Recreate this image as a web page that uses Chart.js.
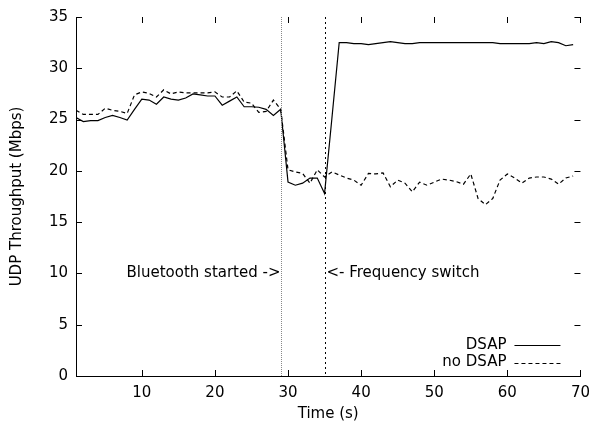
<!DOCTYPE html>
<html>
<head>
<meta charset="utf-8">
<script src="https://cdn.jsdelivr.net/npm/chart.js@4"></script>
<style>
  html, body { margin: 0; padding: 0; background: #fff; }
  #wrap { width: 598px; height: 426px; }
</style>
</head>
<body>
<div id="wrap"><canvas id="udpChart" width="598" height="426"></canvas></div>
<script>
// time in seconds
var times = [1,2,3,4,5,6,7,8,9,10,11,12,13,14,15,16,17,18,19,20,
    21,22,23,24,25,26,27,28,29,30,31,32,33,34,35,36,37,38,39,40,
    41,42,43,44,45,46,47,48,49,50,51,52,53,54,55,56,57,58,59,60,
    61,62,63,64,65,66,67,68,69];

var dsap = [25.2,24.8,24.9,24.9,25.2,25.4,25.2,24.95,26.0,27.0,
    26.9,26.5,27.2,27.0,26.9,27.1,27.5,27.4,27.3,27.3,
    26.4,26.8,27.2,26.25,26.25,26.2,26.0,25.4,26.0,18.9,
    18.6,18.8,19.3,19.3,17.8,25.1,32.5,32.5,32.4,32.4,
    32.3,32.4,32.5,32.6,32.5,32.4,32.4,32.5,32.5,32.5,
    32.5,32.5,32.5,32.5,32.5,32.5,32.5,32.5,32.4,32.4,
    32.4,32.4,32.4,32.5,32.4,32.6,32.5,32.2,32.3];

var noDsap = [25.9,25.5,25.5,25.5,26.1,25.9,25.8,25.6,27.4,27.7,
    27.55,27.2,27.9,27.5,27.7,27.6,27.6,27.6,27.6,27.7,
    27.2,27.2,27.8,26.7,26.6,25.7,25.8,26.9,26.0,20.1,
    19.9,19.75,18.8,20.1,19.4,19.9,19.6,19.3,19.1,18.6,
    19.75,19.7,19.8,18.45,19.1,18.8,17.96,18.9,18.6,18.9,
    19.2,19.1,18.95,18.7,19.7,17.3,16.7,17.3,19.1,19.7,
    19.3,18.8,19.3,19.4,19.4,19.2,18.7,19.3,19.5];

var xTicks = [10,20,30,40,50,60,70];
var yTicks = [0,5,10,15,20,25,30,35];

// event markers
var btStart = 29;
var freqSwitch = 35;
var labelLevel = 10;

var fontFamily = '"DejaVu Sans", sans-serif';
var fontSize = 15;

function toPoints(xs, ys) {
    return xs.map(function(x, i) { return {x: x, y: ys[i]}; });
}

var gnuplotDecor = {
    id: 'gnuplotDecor',
    afterDatasetsDraw: function(chart) {
        var ctx = chart.ctx;
        var xs = chart.scales.x, ys = chart.scales.y;
        var a = chart.chartArea;
        ctx.save();

        // inward ticks on all four sides
        ctx.strokeStyle = '#000';
        ctx.lineWidth = 1;
        ctx.beginPath();
        xTicks.forEach(function(t) {
            var px = Math.round(xs.getPixelForValue(t)) + 0.5;
            ctx.moveTo(px, a.bottom); ctx.lineTo(px, a.bottom - 6);
            ctx.moveTo(px, a.top); ctx.lineTo(px, a.top + 6);
        });
        yTicks.forEach(function(t) {
            var py = Math.round(ys.getPixelForValue(t)) + 0.5;
            ctx.moveTo(a.left, py); ctx.lineTo(a.left + 6, py);
            ctx.moveTo(a.right, py); ctx.lineTo(a.right - 6, py);
        });
        ctx.stroke();

        // vertical event lines
        var pxBt = Math.round(xs.getPixelForValue(btStart)) + 0.5;
        ctx.strokeStyle = '#888';
        ctx.setLineDash([1, 1]);
        ctx.beginPath();
        ctx.moveTo(pxBt, a.top); ctx.lineTo(pxBt, a.bottom);
        ctx.stroke();

        var pxFs = Math.round(xs.getPixelForValue(freqSwitch)) + 0.5;
        ctx.strokeStyle = '#000';
        ctx.setLineDash([2, 3]);
        ctx.beginPath();
        ctx.moveTo(pxFs, a.top); ctx.lineTo(pxFs, a.bottom);
        ctx.stroke();
        ctx.setLineDash([]);

        // annotations
        var ly = ys.getPixelForValue(labelLevel);
        ctx.fillStyle = '#000';
        ctx.font = fontSize + 'px ' + fontFamily;
        ctx.textBaseline = 'middle';
        ctx.textAlign = 'right';
        ctx.fillText('Bluetooth started ->', pxBt - 1, ly);
        ctx.textAlign = 'left';
        ctx.fillText('<- Frequency switch', pxFs + 1, ly);

        // legend, bottom right inside the plot
        var dsets = chart.data.datasets;
        dsets.forEach(function(ds, i) {
            var y = a.bottom - 31 + i * 17.5;
            ctx.textAlign = 'right';
            ctx.fillStyle = '#000';
            ctx.fillText(ds.label, a.right - 74, y);
            ctx.strokeStyle = '#000';
            ctx.lineWidth = 1;
            ctx.setLineDash(ds.borderDash || []);
            ctx.beginPath();
            ctx.moveTo(a.right - 66, Math.round(y) + 0.5);
            ctx.lineTo(a.right - 20, Math.round(y) + 0.5);
            ctx.stroke();
        });
        ctx.setLineDash([]);
        ctx.restore();
    }
};

var ctx = document.getElementById('udpChart').getContext('2d');
var udpChart = new Chart(ctx, {
    type: 'line',
    data: {
        datasets: [{
            label: 'DSAP',
            data: toPoints(times, dsap),
            borderColor: '#000',
            borderWidth: 1.2,
            pointRadius: 0,
            tension: 0
        }, {
            label: 'no DSAP',
            data: toPoints(times, noDsap),
            borderColor: '#000',
            borderWidth: 1.2,
            borderDash: [4, 3],
            pointRadius: 0,
            tension: 0
        }]
    },
    options: {
        responsive: false,
        animation: false,
        layout: { padding: { top: 17, right: 14, left: 0, bottom: 0 } },
        plugins: {
            legend: { display: false },
            tooltip: { enabled: false }
        },
        scales: {
            x: {
                type: 'linear',
                min: 1,
                max: 70,
                afterBuildTicks: function(scale) {
                    scale.ticks = xTicks.map(function(v) { return {value: v}; });
                },
                afterFit: function(scale) { scale.height = 50; },
                grid: { display: false, drawTicks: false },
                border: { display: true, color: '#000', width: 1 },
                ticks: {
                    color: '#000',
                    padding: 8,
                    maxRotation: 0,
                    font: { family: fontFamily, size: fontSize }
                },
                title: {
                    display: true,
                    text: 'Time (s)',
                    color: '#000',
                    padding: { top: 0, bottom: 3 },
                    font: { family: fontFamily, size: fontSize }
                }
            },
            y: {
                min: 0,
                max: 35,
                afterBuildTicks: function(scale) {
                    scale.ticks = yTicks.map(function(v) { return {value: v}; });
                },
                afterFit: function(scale) { scale.width = 76; },
                grid: { display: false, drawTicks: false },
                border: { display: true, color: '#000', width: 1 },
                ticks: {
                    color: '#000',
                    padding: 8,
                    font: { family: fontFamily, size: fontSize }
                },
                title: {
                    display: true,
                    text: 'UDP Throughput (Mbps)',
                    color: '#000',
                    padding: { top: 8, bottom: 0 },
                    font: { family: fontFamily, size: fontSize }
                }
            }
        }
    },
    plugins: [gnuplotDecor]
});
</script>
</body>
</html>
